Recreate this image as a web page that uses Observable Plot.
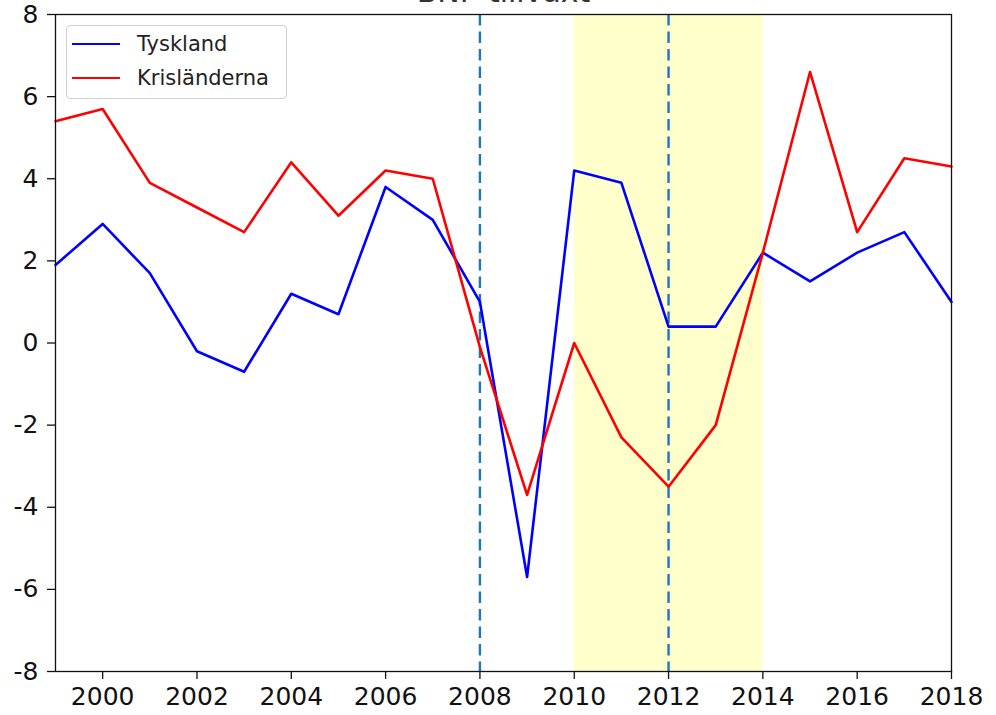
<!DOCTYPE html>
<html>
<head>
<meta charset="utf-8">
<script src="https://cdn.jsdelivr.net/npm/d3@7"></script>
<script src="https://cdn.jsdelivr.net/npm/@observablehq/plot@0.6"></script>
<style>
  html, body { margin: 0; padding: 0; background: white; }
  body { width: 996px; height: 715px; overflow: hidden; position: relative; font-family: "DejaVu Sans", sans-serif; }
  #legend {
    position: absolute; left: 66px; top: 25px; width: 219px; height: 72px;
    border: 1px solid #d0d0d0; border-radius: 4px; background: rgba(255,255,255,0.8);
    font-family: "DejaVu Sans", sans-serif; font-size: 21px; color: #222;
  }
  #legend .row { position: absolute; left: 0; height: 30px; display: flex; align-items: center; }
  #legend .sw { position: absolute; left: 5px; width: 48px; height: 0; border-top: 2.6px solid; }
  #legend .lab { position: absolute; left: 70px; white-space: nowrap; }
</style>
</head>
<body>
<div id="chart"></div>
<script>
const title = "BNP-tillväxt";
const years = [1999, 2000, 2001, 2002, 2003, 2004, 2005, 2006, 2007, 2008, 2009, 2010, 2011, 2012, 2013, 2014, 2015, 2016, 2017, 2018];
const tyskland = [1.9, 2.9, 1.7, -0.2, -0.7, 1.2, 0.7, 3.8, 3.0, 1.0, -5.7, 4.2, 3.9, 0.4, 0.4, 2.2, 1.5, 2.2, 2.7, 1.0];
const krislanderna = [5.4, 5.7, 3.9, 3.3, 2.7, 4.4, 3.1, 4.2, 4.0, -0.1, -3.7, 0.0, -2.3, -3.5, -2.0, 2.2, 6.6, 2.7, 4.5, 4.3];
const seriesNames = ["Tyskland", "Krisländerna"];
const seriesColors = ["blue", "red"];
const bandYears = [2010, 2014];
const markerYears = [2008, 2012];
const xTicks = [2000, 2002, 2004, 2006, 2008, 2010, 2012, 2014, 2016, 2018];
const yTicks = [-8, -6, -4, -2, 0, 2, 4, 6, 8];

const rows = [];
years.forEach((y, i) => {
  rows.push({year: y, value: tyskland[i], series: seriesNames[0]});
  rows.push({year: y, value: krislanderna[i], series: seriesNames[1]});
});

const plot = Plot.plot({
  width: 996,
  height: 715,
  marginLeft: 55,
  marginRight: 45,
  marginTop: 14,
  marginBottom: 44,
  style: {fontFamily: "DejaVu Sans, sans-serif", background: "white", color: "#111", overflow: "visible"},
  x: {domain: [1999, 2018]},
  y: {domain: [-8, 8]},
  color: {domain: seriesNames, range: seriesColors},
  marks: [
    Plot.rectX([{x1: bandYears[0], x2: bandYears[1]}], {x1: "x1", x2: "x2", fill: "#ffffcc"}),
    Plot.ruleX(markerYears, {stroke: "#1f77b4", strokeWidth: 2.4, strokeDasharray: "11.5,6"}),
    Plot.line(rows, {x: "year", y: "value", z: "series", stroke: "series", strokeWidth: 2.6}),
    Plot.frame({stroke: "#111", strokeWidth: 1.3}),
    Plot.axisX({ticks: xTicks, tickFormat: d => String(d), tickSize: 8, tickPadding: 8, fontSize: 25, strokeWidth: 1.3, label: null}),
    Plot.axisY({ticks: yTicks, tickFormat: d => String(d), tickSize: 8, tickPadding: 9, fontSize: 25, strokeWidth: 1.3, label: null}),
    Plot.text([title], {frameAnchor: "top", dy: -13, lineAnchor: "bottom", fontSize: 30, fill: "#333", text: d => d})
  ]
});
document.getElementById("chart").appendChild(plot);

const legend = document.createElement("div");
legend.id = "legend";
seriesNames.forEach((name, i) => {
  const row = document.createElement("div");
  row.className = "row";
  row.style.top = (i === 0 ? 3 : 37) + "px";
  row.style.width = "100%";
  const sw = document.createElement("span");
  sw.className = "sw";
  sw.style.borderTopColor = seriesColors[i];
  const lab = document.createElement("span");
  lab.className = "lab";
  lab.textContent = name;
  row.appendChild(sw);
  row.appendChild(lab);
  legend.appendChild(row);
});
document.body.appendChild(legend);
</script>
</body>
</html>
